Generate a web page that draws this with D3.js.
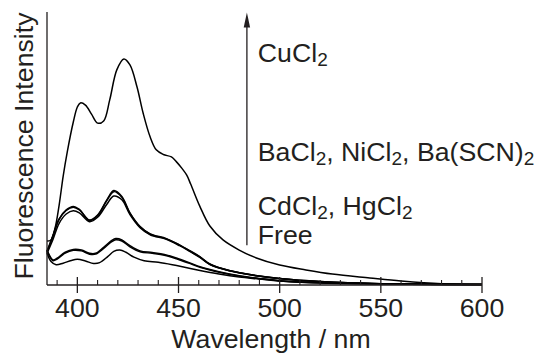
<!DOCTYPE html>
<html><head><meta charset="utf-8">
<script src="https://cdn.jsdelivr.net/npm/d3@7"></script>
<style>html,body{margin:0;padding:0;background:#fff;}svg{display:block;}</style>
</head><body>
<svg id="c" width="539" height="355"></svg>
<script>
// wavelength (nm) / intensity (a.u.) for each spectrum
const cuNm  = [385,387,389,391,393,395,398,400,401.5,404,407,410,413,416,419.5,423,426,429.5,432.5,436,439,442.5,446.5,449,451.5,454,456,460.5,465.5,472,480,488.5,500,513,526,544.5,560,580,600];
const cuI   = [16.1,16.5,20.9,29.3,39.9,48.7,59.7,65.2,66.7,65.9,62.6,59.3,60.1,67.8,78.8,82.8,80.6,72.5,63.0,54.2,49.5,47.8,46.9,45.1,42.9,40.3,37.0,28.9,21.6,16.5,12.8,9.9,7.3,5.5,4.0,2.6,1.5,0.5,0.2];

const midNm = [385,388,391,394.5,398,401,406,410,414.5,418,422,426,431,436,444,450.5,455.5,460.5,465.5,475,488,500,520,550,600];
const baI   = [12.1,18.3,24.2,27.5,28.8,27.7,23.8,25.6,31.1,34.6,32.4,26.4,21.4,18.7,17.0,14.7,12.6,10.4,7.7,5.3,3.5,2.4,1.3,0.5,0.2];
const niI   = [11.6,16.8,22.6,26.0,27.2,26.4,23.2,24.8,29.5,32.6,31.2,25.8,21.0,18.4,16.7,14.4,12.3,10.1,7.5,5.2,3.4,2.3,1.2,0.5,0.2];
const bscnI = [12.4,18.0,24.0,27.3,28.5,27.5,23.6,25.4,30.8,34.2,32.1,26.2,21.3,18.6,16.9,14.6,12.5,10.3,7.6,5.3,3.5,2.4,1.3,0.5,0.2];

const lowNm = [385,388,390,394,398,402,406,409,413,417,419,422,426,431,437,443,449,455,461,470,480,490,500,520,550,600];
const cdI   = [12.8,9.2,9.8,12.0,13.0,12.8,11.6,11.6,13.8,16.3,17.0,16.5,14.4,12.5,11.9,11.2,9.9,8.3,6.6,4.9,3.4,2.4,1.6,0.9,0.4,0.2];
const hgI   = [12.4,8.9,9.5,11.7,12.7,12.5,11.3,11.3,13.4,15.9,16.6,16.1,14.0,12.2,11.6,10.9,9.6,8.0,6.4,4.7,3.3,2.3,1.5,0.8,0.4,0.2];

const freeNm = [385,387,389.5,393,397,400,404,408,411,415,418,421,424,428,433,440,447,453,460,470,480,490,500,520,550,600];
const freeI  = [11.7,8.6,7.4,8.0,9.0,9.4,8.8,7.9,8.2,10.4,12.3,12.8,12.0,10.2,8.9,8.3,7.4,6.5,5.4,4.0,2.9,2.2,1.5,0.7,0.4,0.2];

const xMajorTicks = [400,450,500,550,600];
const xMinorTicks = [390,410,420,430,440,460,470,480,490,510,520,530,540,560,570,580,590];

const xTitle = "Wavelength / nm";
const yTitle = "Fluorescence Intensity";

// annotation: arrow and labels (position in data units)
const arrowNm = 483.8, arrowFrom = 14.6, arrowTo = 99.8;
const labelNm = 489.2;
const labels = [
  {parts:[["CuCl",0],["2",1]], I: 81.7},
  {parts:[["BaCl",0],["2",1],[", NiCl",0],["2",1],[", Ba(SCN)",0],["2",1]], I: 45.5},
  {parts:[["CdCl",0],["2",1],[", HgCl",0],["2",1]], I: 25.5},
  {parts:[["Free",0]], I: 15.0}
];

const series = [
  {nm: freeNm, v: freeI},
  {nm: lowNm, v: hgI},
  {nm: lowNm, v: cdI},
  {nm: midNm, v: niI},
  {nm: midNm, v: bscnI},
  {nm: midNm, v: baI},
  {nm: cuNm, v: cuI}
];

const svg = d3.select("#c");
const ink = "#231f20";
const font = "'Liberation Sans', Arial, Helvetica, sans-serif";
const fs = 26.7;
const x = d3.scaleLinear().domain([385,600]).range([47,482]);
const y = d3.scaleLinear().domain([0,100]).range([285,12]);

const line = d3.line().x(d=>x(d[0])).y(d=>y(d[1])).curve(d3.curveCatmullRom.alpha(0.5));
series.forEach(s=>{
  svg.append("path").attr("d", line(s.nm.map((n,i)=>[n,s.v[i]])))
    .attr("fill","none").attr("stroke","#000").attr("stroke-width",1.5).attr("stroke-linejoin","round");
});

// axes
const gx = svg.append("g").attr("transform",`translate(0,${y(0)})`);
gx.append("line").attr("x1",x(385)).attr("x2",x(600)).attr("stroke",ink).attr("stroke-width",1.3);
gx.selectAll(".mj").data(xMajorTicks).join("line").attr("x1",d=>x(d)).attr("x2",d=>x(d))
  .attr("y1",-8).attr("y2",8).attr("stroke",ink).attr("stroke-width",1.3);
gx.selectAll(".mn").data(xMinorTicks).join("line").attr("x1",d=>x(d)).attr("x2",d=>x(d))
  .attr("y1",-5).attr("y2",0).attr("stroke",ink).attr("stroke-width",1.1);
gx.selectAll(".tl").data(xMajorTicks).join("text").attr("x",d=>x(d)).attr("y",32)
  .attr("text-anchor","middle").attr("font-family",font).attr("font-size",fs).attr("fill",ink).text(d=>d);

svg.append("line").attr("x1",x(385)).attr("x2",x(385)).attr("y1",y(100)).attr("y2",y(0))
  .attr("stroke",ink).attr("stroke-width",1.3);

svg.append("text").attr("x",271).attr("y",348).attr("text-anchor","middle")
  .attr("font-family",font).attr("font-size",fs).attr("fill",ink).text(xTitle);
svg.append("text").attr("transform","translate(33,146) rotate(-90)").attr("text-anchor","middle")
  .attr("font-family",font).attr("font-size",fs).attr("fill",ink).text(yTitle);

// arrow
const ax = x(arrowNm);
svg.append("line").attr("x1",ax).attr("x2",ax).attr("y1",y(arrowFrom)).attr("y2",y(arrowTo)+12)
  .attr("stroke",ink).attr("stroke-width",1.3);
svg.append("path").attr("d",`M${ax},${y(arrowTo)} L${ax-3.2},${y(arrowTo)+15} L${ax+3.2},${y(arrowTo)+15} Z`).attr("fill",ink);

// labels
labels.forEach(l=>{
  const t = svg.append("text").attr("x",x(labelNm)).attr("y",y(l.I))
    .attr("font-family",font).attr("font-size",fs).attr("fill",ink);
  l.parts.forEach((p,i)=>{
    if(p[1]) t.append("tspan").attr("font-size",19).attr("dy",4).text(p[0]);
    else {
      const ts = t.append("tspan").text(p[0]);
      if (i>0) ts.attr("dy",-4);
    }
  });
});
</script>
</body></html>
